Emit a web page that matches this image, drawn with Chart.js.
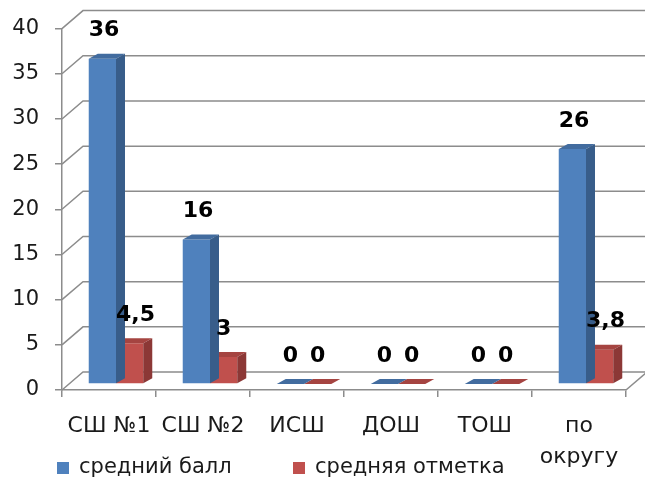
<!DOCTYPE html>
<html>
<head>
<meta charset="utf-8">
<script src="https://cdn.jsdelivr.net/npm/chart.js@4"></script>
<style>
  html, body { margin: 0; padding: 0; background: #fff; }
  canvas { display: block; }
</style>
</head>
<body>
<canvas id="chart" width="645" height="484"></canvas>
<script>
// Chart data
const categories = ['СШ №1', 'СШ №2', 'ИСШ', 'ДОШ', 'ТОШ', ['по', 'округу']];
const avgScore = [36, 16, 0, 0, 0, 26];
const avgMark = [4.5, 3, 0, 0, 0, 3.8];
const seriesNames = ['средний балл', 'средняя отметка'];
const yMin = 0;
const yMax = 40;
const yStep = 5;

// Look
const FONT = 'DejaVu Sans';
const TEXT = '#1a1a1a';
const LINE = '#8c8c8c';
const colors = [
    { front: '#4f81bd', side: '#385d8a', top: '#426c9f' },
    { front: '#c0504d', side: '#8c3836', top: '#a54441' }
];
const WALL = { dx: 21, dy: -18 };   // back wall offset
const SHIFT = { dx: 7, dy: -6 };    // bars sit in the middle of the depth
const DEPTH = { dx: 9, dy: -5 };    // bar thickness

// Draw the back wall grid and floor
const wallPlugin = {
    id: 'walls',
    beforeDatasetsDraw(chart) {
        const { ctx, chartArea: a, scales: { y } } = chart;
        ctx.save();
        ctx.strokeStyle = LINE;
        ctx.lineWidth = 1.5;
        y.ticks.forEach(t => {
            const py = y.getPixelForValue(t.value);
            ctx.beginPath();
            ctx.moveTo(a.left, py);
            ctx.lineTo(a.left + WALL.dx, py + WALL.dy);
            ctx.lineTo(chart.width, py + WALL.dy);
            ctx.stroke();
        });
        ctx.beginPath();
        ctx.moveTo(a.right, a.bottom);
        ctx.lineTo(a.right + WALL.dx, a.bottom + WALL.dy);
        ctx.stroke();
        ctx.restore();
    }
};

// Shift bars and add their top and side faces
const barPlugin = {
    id: 'bars3d',
    beforeDatasetDraw(chart) {
        chart.ctx.save();
        chart.ctx.translate(SHIFT.dx, SHIFT.dy);
    },
    afterDatasetDraw(chart, args) {
        const ctx = chart.ctx;
        const c = colors[args.index];
        args.meta.data.forEach(bar => {
            const { x, y, base, width } = bar.getProps(['x', 'y', 'base', 'width'], true);
            const l = x - width / 2;
            const r = x + width / 2;
            ctx.fillStyle = c.top;
            ctx.beginPath();
            ctx.moveTo(l, y);
            ctx.lineTo(l + DEPTH.dx, y + DEPTH.dy);
            ctx.lineTo(r + DEPTH.dx, y + DEPTH.dy);
            ctx.lineTo(r, y);
            ctx.closePath();
            ctx.fill();
            if (base - y > 0.5) {
                ctx.fillStyle = c.side;
                ctx.beginPath();
                ctx.moveTo(r, y);
                ctx.lineTo(r + DEPTH.dx, y + DEPTH.dy);
                ctx.lineTo(r + DEPTH.dx, base + DEPTH.dy);
                ctx.lineTo(r, base);
                ctx.closePath();
                ctx.fill();
            }
        });
        ctx.restore();
    }
};

// Value labels above bars
const labelPlugin = {
    id: 'valueLabels',
    afterDatasetsDraw(chart) {
        const ctx = chart.ctx;
        ctx.save();
        ctx.font = 'bold 22px "' + FONT + '"';
        ctx.fillStyle = '#000';
        ctx.textAlign = 'center';
        ctx.textBaseline = 'middle';
        chart.data.datasets.forEach((ds, i) => {
            chart.getDatasetMeta(i).data.forEach((bar, j) => {
                const text = String(ds.data[j]).replace('.', ',');
                const w = ctx.measureText(text).width;
                const l = bar.x - bar.width / 2;
                const cx = Math.max(bar.x, l + w / 2);
                ctx.fillText(text, cx + SHIFT.dx, bar.y + SHIFT.dy - 28);
            });
        });
        ctx.restore();
    }
};

// Legend at the bottom
const legendPlugin = {
    id: 'bottomLegend',
    afterDraw(chart) {
        const ctx = chart.ctx;
        const xs = [57, 293];
        const yMid = 468;
        ctx.save();
        ctx.font = '21px "' + FONT + '"';
        ctx.textBaseline = 'middle';
        seriesNames.forEach((name, i) => {
            ctx.fillStyle = colors[i].front;
            ctx.fillRect(xs[i], yMid - 6, 12, 12);
            ctx.fillStyle = TEXT;
            ctx.fillText(name, xs[i] + 22, yMid);
        });
        ctx.restore();
    }
};

new Chart(document.getElementById('chart'), {
    type: 'bar',
    data: {
        labels: categories,
        datasets: [
            { label: seriesNames[0], data: avgScore, backgroundColor: colors[0].front, clip: false },
            { label: seriesNames[1], data: avgMark, backgroundColor: colors[1].front, clip: false }
        ]
    },
    options: {
        responsive: false,
        animation: false,
        devicePixelRatio: 1,
        layout: { padding: { top: 28, right: 19, left: 0, bottom: 0 } },
        datasets: { bar: { barPercentage: 1, categoryPercentage: 0.58 } },
        plugins: {
            legend: { display: false },
            tooltip: { enabled: false }
        },
        scales: {
            x: {
                afterFit: s => { s.height = 94; },
                grid: { drawOnChartArea: false, offset: true, tickLength: 7, color: LINE, lineWidth: 1.5 },
                border: { color: LINE, width: 1.5 },
                ticks: {
                    color: TEXT, padding: 14, maxRotation: 0, autoSkip: false,
                    font: { family: FONT, size: 22, lineHeight: 1.41 }
                }
            },
            y: {
                min: yMin,
                max: yMax,
                afterFit: s => { s.width = 62; },
                grid: { drawOnChartArea: false, tickLength: 7, color: LINE, lineWidth: 1.5 },
                border: { color: LINE, width: 1.5 },
                ticks: {
                    stepSize: yStep, color: TEXT, padding: 16,
                    font: { family: FONT, size: 21 }
                }
            }
        }
    },
    plugins: [wallPlugin, barPlugin, labelPlugin, legendPlugin]
});
</script>
</body>
</html>
